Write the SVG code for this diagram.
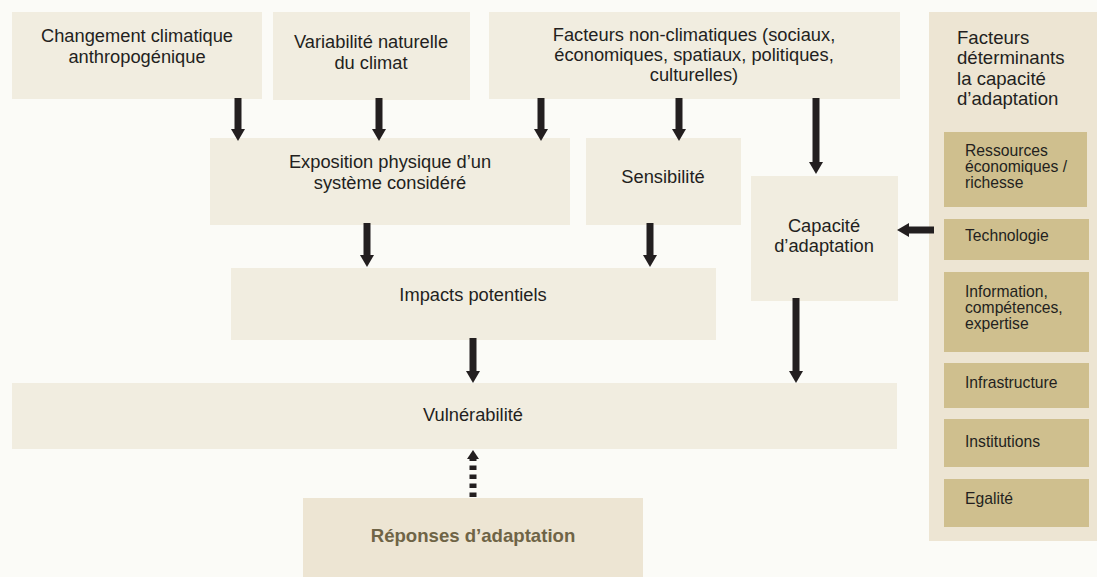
<svg xmlns="http://www.w3.org/2000/svg" width="1097" height="577" viewBox="0 0 1097 577">
<style>
.box{fill:#f1ede0}
.panel{fill:#ede5d3}
.inner{fill:#cfbf8e}
.t{font-family:"Liberation Sans",Arial,sans-serif;font-size:18.3px;fill:#231f20;text-anchor:middle}
.tl{font-family:"Liberation Sans",Arial,sans-serif;font-size:18.6px;fill:#231f20}
.ti{font-family:"Liberation Sans",Arial,sans-serif;font-size:15.7px;fill:#231f20}
.tb{font-family:"Liberation Sans",Arial,sans-serif;font-size:18.6px;font-weight:bold;fill:#6f6446;text-anchor:middle}
.a{stroke:#231f20;stroke-width:7;fill:none;marker-end:url(#ah)}
.d{stroke:#231f20;stroke-width:7;fill:none;stroke-dasharray:4.5 4.5;marker-end:url(#ahs)}
</style>
<defs>
<marker id="ah" markerUnits="userSpaceOnUse" viewBox="0 0 12 14" markerWidth="12" markerHeight="14" refX="0" refY="7" orient="auto">
<path d="M0,0 L12,7 L0,14 z" fill="#231f20"/>
</marker>
<marker id="ahs" markerUnits="userSpaceOnUse" viewBox="0 0 9 12" markerWidth="9" markerHeight="12" refX="0" refY="6" orient="auto">
<path d="M0,0 L9,6 L0,12 z" fill="#231f20"/>
</marker>
</defs>
<rect x="0" y="0" width="1097" height="577" fill="#fbfbf7"/>

<g id="n-changement">
<rect class="box" x="12" y="12" width="250" height="87"/>
<text class="t" x="137" y="42">Changement climatique</text>
<text class="t" x="137" y="63">anthropogénique</text>
</g>
<g id="n-variabilite">
<rect class="box" x="273" y="12" width="197" height="88"/>
<text class="t" x="371" y="48">Variabilité naturelle</text>
<text class="t" x="371" y="69">du climat</text>
</g>
<g id="n-facteurs">
<rect class="box" x="489" y="12" width="411" height="87"/>
<text class="t" x="694" y="41">Facteurs non-climatiques (sociaux,</text>
<text class="t" x="694" y="61">économiques, spatiaux, politiques,</text>
<text class="t" x="694" y="81">culturelles)</text>
</g>
<g id="n-exposition">
<rect class="box" x="210" y="138" width="360" height="87"/>
<text class="t" x="390" y="168">Exposition physique d’un</text>
<text class="t" x="390" y="189">système considéré</text>
</g>
<g id="n-sensibilite">
<rect class="box" x="586" y="138" width="155" height="87"/>
<text class="t" x="663" y="183">Sensibilité</text>
</g>
<g id="n-capacite">
<rect class="box" x="751" y="176" width="147" height="125"/>
<text class="t" x="824" y="232">Capacité</text>
<text class="t" x="824" y="252">d’adaptation</text>
</g>
<g id="n-impacts">
<rect class="box" x="231" y="268" width="485" height="72"/>
<text class="t" x="473" y="301">Impacts potentiels</text>
</g>
<g id="n-vulnerabilite">
<rect class="box" x="12" y="383" width="885" height="66"/>
<text class="t" x="473" y="421">Vulnérabilité</text>
</g>
<g id="n-reponses">
<rect class="panel" x="303" y="498" width="340" height="79"/>
<text class="tb" x="473" y="542">Réponses d’adaptation</text>
</g>
<g id="n-determinants">
<rect class="panel" x="929" y="12" width="168" height="529"/>
<text class="tl" x="957" y="44">Facteurs</text>
<text class="tl" x="957" y="64">déterminants</text>
<text class="tl" x="957" y="85">la capacité</text>
<text class="tl" x="957" y="105">d’adaptation</text>
</g>
<g id="n-ressources">
<rect class="inner" x="944" y="132" width="143" height="75"/>
<text class="ti" x="965" y="156">Ressources</text>
<text class="ti" x="965" y="172">économiques /</text>
<text class="ti" x="965" y="188">richesse</text>
</g>
<g id="n-technologie">
<rect class="inner" x="944" y="219" width="145" height="41"/>
<text class="ti" x="965" y="241">Technologie</text>
</g>
<g id="n-information">
<rect class="inner" x="944" y="272" width="145" height="80"/>
<text class="ti" x="965" y="297">Information,</text>
<text class="ti" x="965" y="313">compétences,</text>
<text class="ti" x="965" y="329">expertise</text>
</g>
<g id="n-infrastructure">
<rect class="inner" x="944" y="363" width="145" height="45"/>
<text class="ti" x="965" y="388">Infrastructure</text>
</g>
<g id="n-institutions">
<rect class="inner" x="944" y="419" width="145" height="48"/>
<text class="ti" x="965" y="447">Institutions</text>
</g>
<g id="n-egalite">
<rect class="inner" x="944" y="479" width="145" height="48"/>
<text class="ti" x="965" y="504">Egalité</text>
</g>

<g id="connectors">
<line class="a" x1="238" y1="98" x2="238" y2="129"/>
<line class="a" x1="379" y1="98" x2="379" y2="129"/>
<line class="a" x1="541" y1="98" x2="541" y2="129"/>
<line class="a" x1="679" y1="98" x2="679" y2="129"/>
<line class="a" x1="816" y1="98" x2="816" y2="162"/>
<line class="a" x1="367" y1="223" x2="367" y2="255"/>
<line class="a" x1="650" y1="223" x2="650" y2="255"/>
<line class="a" x1="473" y1="338" x2="473" y2="371"/>
<line class="a" x1="796" y1="298" x2="796" y2="371"/>
<line class="a" x1="934" y1="230" x2="909" y2="230"/>
<line class="d" x1="473" y1="497" x2="473" y2="459"/>
</g>
</svg>
